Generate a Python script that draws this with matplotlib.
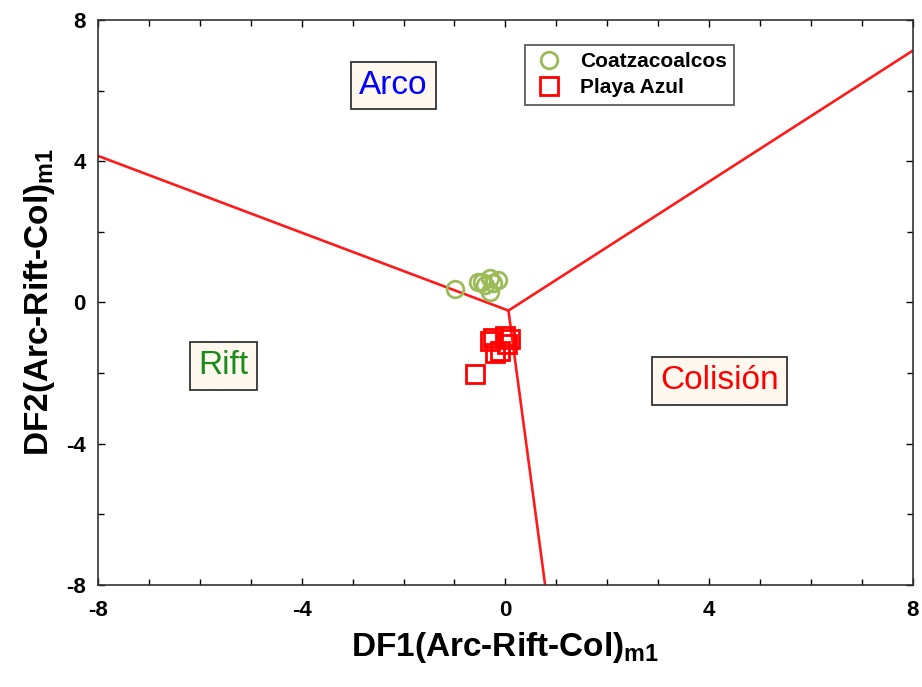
import matplotlib.pyplot as plt
from matplotlib.ticker import MultipleLocator

plt.rcParams['font.family'] = ['Liberation Sans', 'DejaVu Sans']
plt.rcParams['axes.unicode_minus'] = False
plt.rcParams['mathtext.fontset'] = 'custom'
plt.rcParams['mathtext.rm'] = 'Liberation Sans'
plt.rcParams['mathtext.bf'] = 'Liberation Sans:bold'

# discriminant field boundaries (DF1, DF2)
centre = (0.06, -0.23)
ends = [(-8.0, 4.15), (8.0, 7.13), (0.78, -8.0)]

coatza_x = [-0.99, -0.46, -0.30, -0.14, -0.30, -0.40, -0.53, -0.24]
coatza_y = [0.39, 0.58, 0.69, 0.63, 0.29, 0.49, 0.57, 0.54]

playa_x = [-0.24, 0.00, 0.09, -0.20, -0.10, -0.59, 0.04, -0.30]
playa_y = [-1.00, -0.94, -1.03, -1.43, -1.37, -2.03, -1.17, -1.09]

fields = ['Arco', 'Rift', 'Colisión']
field_x = [-2.2, -5.54, 4.2]
field_y = [6.14, -1.79, -2.22]
field_col = ['#0000ff', '#1a8c1a', '#ff0000']

fig = plt.figure(figsize=(9.22, 6.87), dpi=100)
ax = fig.add_axes([0.1063, 0.1485, 0.8837, 0.8225])

for ex, ey in ends:
    ax.plot([centre[0], ex], [centre[1], ey], color='#ff1a1a', lw=1.9, zorder=2)

ax.plot(coatza_x, coatza_y, 'o', ms=12, mfc='none', mec='#9bbb59', mew=2,
        label='Coatzacoalcos', zorder=3)
ax.plot(playa_x, playa_y, 's', ms=12.5, mfc='none', mec='#ff0000', mew=2,
        label='Playa Azul', zorder=3)

for t, x, y, c in zip(fields, field_x, field_y, field_col):
    ax.text(x, y, t, color=c, fontsize=24, ha='center', va='center',
            bbox=dict(boxstyle='square,pad=0.25', fc='#fff8ee', ec='#333333', lw=1.3))

ax.set_xlim(-8, 8)
ax.set_ylim(-8, 8)
ax.set_xticks([-8, -4, 0, 4, 8])
ax.set_yticks([-8, -4, 0, 4, 8])
ax.xaxis.set_minor_locator(MultipleLocator(1))
ax.yaxis.set_minor_locator(MultipleLocator(2))
ax.tick_params(which='both', direction='in', top=True, right=True, labelsize=16)
ax.tick_params(which='major', length=5, width=1)
ax.tick_params(which='minor', length=4, width=1)
ax.tick_params(axis='x', pad=11)
ax.tick_params(axis='y', pad=9)
for lab in ax.get_xticklabels() + ax.get_yticklabels():
    lab.set_fontweight('bold')
for s in ax.spines.values():
    s.set_color('#333333')
    s.set_linewidth(1.2)

ax.set_xlabel(r'DF1(Arc-Rift-Col)$_{\mathbf{m1}}$', fontsize=24, fontweight='bold', labelpad=6)
ax.set_ylabel(r'DF2(Arc-Rift-Col)$_{\mathbf{m1}}$', fontsize=24, fontweight='bold', labelpad=6)

leg = ax.legend(loc='upper left', bbox_to_anchor=(0.524, 0.956),
                prop={'weight': 'bold', 'size': 15}, frameon=True, fancybox=False,
                edgecolor='#333333', handletextpad=0.7, borderpad=0.35,
                labelspacing=0.35, handlelength=1.6, borderaxespad=0)
leg.get_frame().set_linewidth(1.3)

fig.savefig('out.png', dpi=100)
